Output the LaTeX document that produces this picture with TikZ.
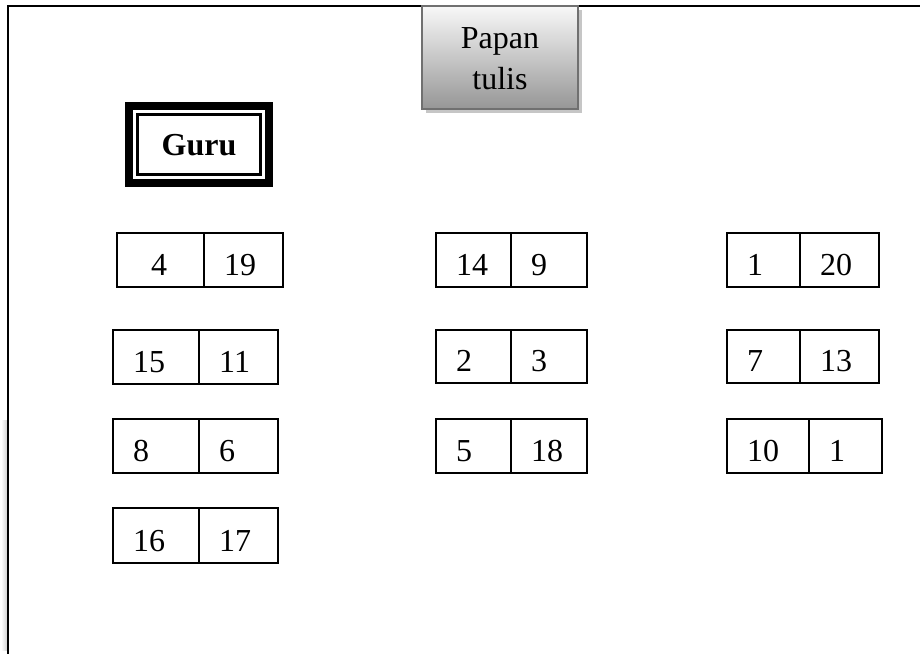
\documentclass[tikz,border=0pt]{standalone}
\usepackage{fontspec}
\setmainfont{Liberation Serif}
\usetikzlibrary{shadows}
\tikzset{
  cell/.style={draw=black, line width=1.8pt, inner sep=0pt, fill=white},
  num/.style={inner sep=0pt, anchor=base west, font=\fontsize{32}{38}\selectfont},
  big/.style={inner sep=0pt, anchor=base, font=\fontsize{32}{38}\selectfont},
  frameline/.style={line width=2pt, black},
}
\newcommand\mkdesk[9]{%
  \node[cell, minimum width={#3-#2}, minimum height={#6-#5}] (#1a) at ({(#2+#3)/2},{(#5+#6)/2}) {};
  \node[cell, minimum width={#4-#3}, minimum height={#6-#5}] (#1b) at ({(#3+#4)/2},{(#5+#6)/2}) {};
  \node[num] (#1ta) at ({#2+20+#9},{#6-12}) {#7};
  \node[num] (#1tb) at ({#3+20},{#6-12}) {#8};
}
\begin{document}
\begin{tikzpicture}[x=1pt,y=-1pt]
\useasboundingbox (0,0) rectangle (920,653);
% outer frame (top and left only)
\shade[left color=white, right color=gray!35] (1,420) rectangle (7,650);
\coordinate (tl) at (8,6);
\coordinate (tr) at (921,6);
\coordinate (bl) at (8,654);
\draw[frameline] (tr) -- (tl) -- (bl);
% Papan tulis
\node[minimum width=156, minimum height=103, inner sep=0pt,
      draw={rgb,255:red,112;green,112;blue,112}, line width=2.5pt,
      top color={rgb,255:red,248;green,248;blue,248},
      bottom color={rgb,255:red,150;green,150;blue,150},
      drop shadow={shadow xshift=4pt, shadow yshift=-4pt, fill=gray!45, opacity=1}]
      (papan) at (500,57.5) {};
\node[big] (papan1) at (500,48) {Papan};
\node[big] (papan2) at (500,89) {tulis};
% Guru
\node[fill=black, minimum width=148, minimum height=85, inner sep=0pt] (guruout) at (199,144.5) {};
\node[fill=white, minimum width=132, minimum height=69, inner sep=0pt] (guruwhite) at (199,144.5) {};
\node[draw=black, line width=2.5pt, minimum width=123, minimum height=60, inner sep=0pt] (guru) at (199,144.5) {};
\node[big, font=\fontsize{32}{38}\selectfont\bfseries] (gurutext) at (199,155) {Guru};
% desks: name, x1, xdiv, x2, ytop, ybot, left, right, extra offset of left text
\mkdesk{ca}{117}{204}{283}{233}{287}{4}{19}{14}
\mkdesk{cb}{113}{199}{278}{330}{384}{15}{11}{0}
\mkdesk{cc}{113}{199}{278}{419}{473}{8}{6}{0}
\mkdesk{cd}{113}{199}{278}{508}{563}{16}{17}{0}
\mkdesk{ma}{436}{511}{587}{233}{287}{14}{9}{0}
\mkdesk{mb}{436}{511}{587}{330}{383}{2}{3}{0}
\mkdesk{mc}{436}{511}{587}{419}{473}{5}{18}{0}
\mkdesk{ra}{727}{800}{879}{233}{287}{1}{20}{0}
\mkdesk{rb}{727}{800}{879}{330}{383}{7}{13}{0}
\mkdesk{rc}{727}{809}{882}{419}{473}{10}{1}{0}
\end{tikzpicture}
\end{document}
